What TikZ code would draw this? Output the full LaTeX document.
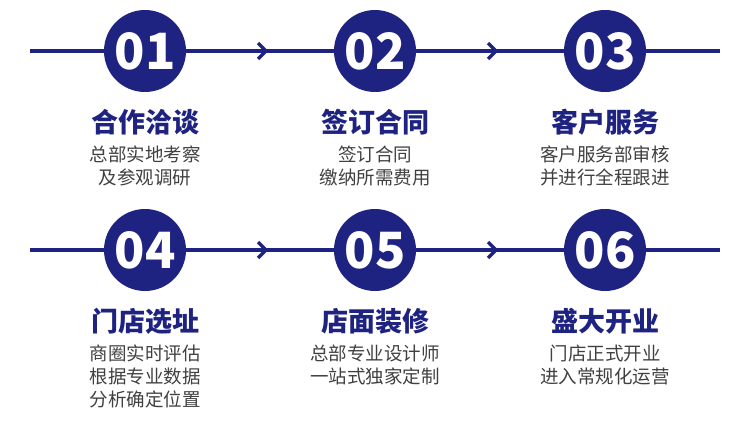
\documentclass[tikz,border=0pt]{standalone}
\usepackage{fontspec}
\setmainfont{Noto Sans CJK SC}
\definecolor{navy}{RGB}{30,34,128}
\definecolor{txtgray}{RGB}{64,64,64}
\tikzset{
  track/.style={draw=navy,line width=4pt},
  chev/.style={draw=navy,line width=3.5pt},
  badge/.style={circle,fill=navy,minimum size=82pt,inner sep=0pt,text=white,font=\fontsize{50}{50}\selectfont\bfseries},
  title/.style={text=navy,font=\fontsize{27}{28}\selectfont\bfseries},
  desc/.style={text=txtgray,align=center,font=\fontsize{18.5}{23}\selectfont},
}
\begin{document}
\begin{tikzpicture}[x=1pt,y=-1pt]
  \useasboundingbox (0,0) rectangle (750,444);
  \foreach \row/\yy in {0/51, 1/250} {
    \coordinate (l\row) at (30,\yy);
    \coordinate (r\row) at (720,\yy);
    \draw[track] (l\row) -- (r\row);
    \foreach \cx in {258, 488} {
      \draw[chev] (\cx,\yy-8) -- (\cx+8,\yy) -- (\cx,\yy+8);
    }
  }
  \foreach \n/\cx/\yy/\ttl/\txt in {
    01/145/51/合作洽谈/{总部实地考察\\及参观调研},
    02/375/51/签订合同/{签订合同\\缴纳所需费用},
    03/605/51/客户服务/{客户服务部审核\\并进行全程跟进},
    04/145/250/门店选址/{商圈实时评估\\根据专业数据\\分析确定位置},
    05/375/250/店面装修/{总部专业设计师\\一站式独家定制},
    06/605/250/盛大开业/{门店正式开业\\进入常规化运营}} {
    \node[badge] (b\n) at (\cx,\yy) {\n};
    \node[title] (t\n) at (\cx,\yy+71) {\ttl};
    \node[desc,anchor=north] (d\n) at (\cx,\yy+91) {\txt};
  }
\end{tikzpicture}
\end{document}
